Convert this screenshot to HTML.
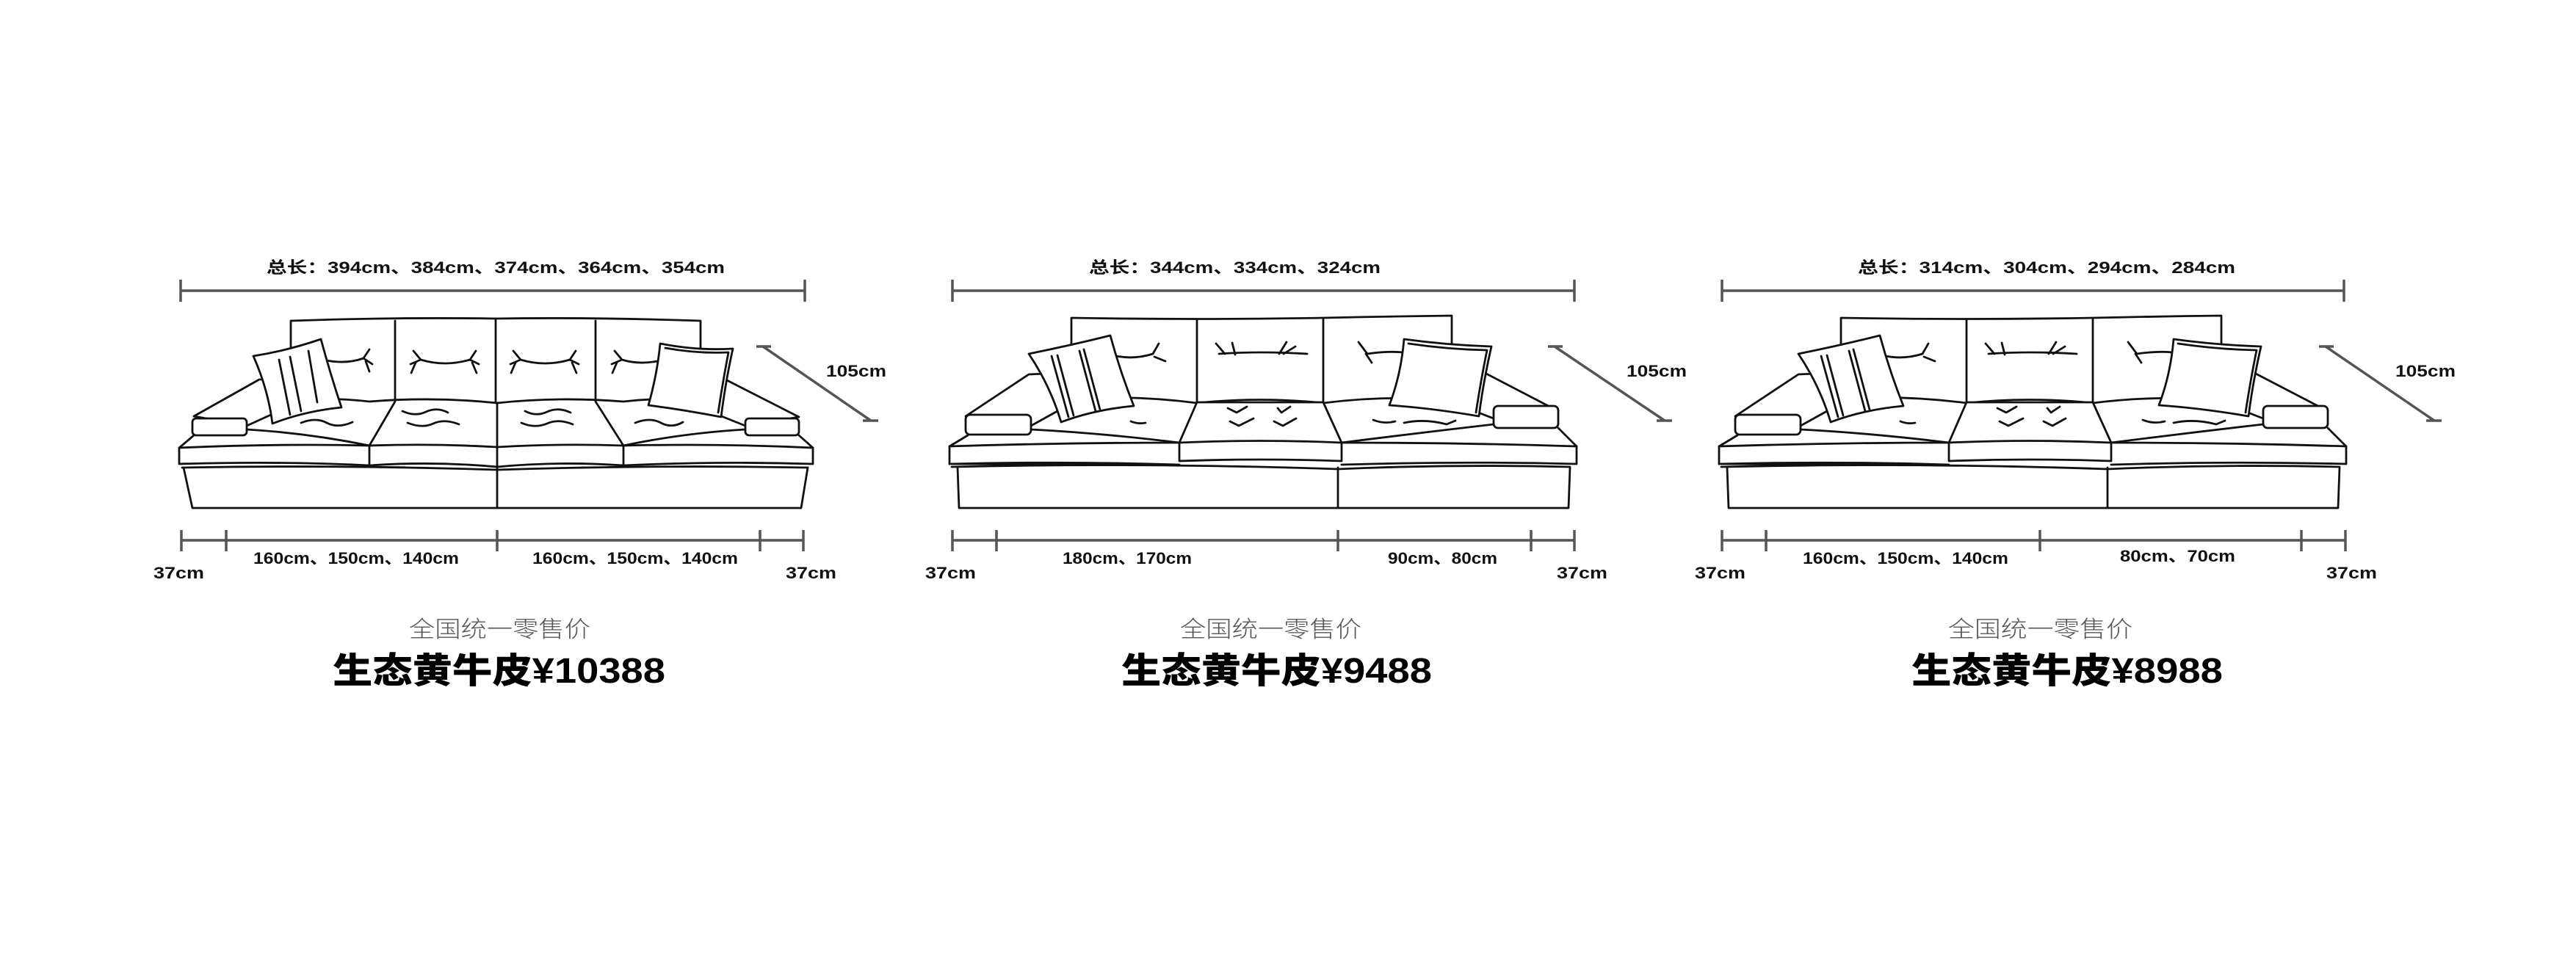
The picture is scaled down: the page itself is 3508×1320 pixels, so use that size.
<!DOCTYPE html>
<html><head><meta charset="utf-8"><style>
html,body{margin:0;padding:0;background:#fff;}
svg{display:block;}
.d{stroke:#555;stroke-width:3.5;fill:none;}
.s{stroke:#111;stroke-width:2.8;fill:none;stroke-linejoin:round;stroke-linecap:round;}
.f{stroke:#111;stroke-width:2.8;fill:#fff;stroke-linejoin:round;}
.t{font-family:"Liberation Sans","Noto Sans CJK SC",sans-serif;font-weight:bold;font-size:22px;fill:#111;}
.g{font-family:"Liberation Sans","Noto Sans CJK SC",sans-serif;font-weight:300;font-size:31px;fill:#555;}
.p{font-family:"Liberation Sans","Noto Sans CJK SC",sans-serif;font-weight:900;font-size:48px;fill:#000;}
</style></head><body>
<svg width="3508" height="1320" viewBox="0 0 3508 1320" xmlns="http://www.w3.org/2000/svg">
<rect width="3508" height="1320" fill="#fff"/>

<!-- ===== SOFA 1 ===== -->
<text class="t" x="363" y="372" textLength="624" lengthAdjust="spacingAndGlyphs">总长：394cm、384cm、374cm、364cm、354cm</text>
<path class="d" d="M246,396 H1096 M246,381 V411 M1096,381 V411"/>
<path class="d" d="M247,736 H1094 M247,722 V751 M308,722 V751 M677,722 V751 M1035,722 V751 M1094,722 V751"/>
<text class="t" x="345" y="768" textLength="280" lengthAdjust="spacingAndGlyphs">160cm、150cm、140cm</text>
<text class="t" x="725" y="768" textLength="280" lengthAdjust="spacingAndGlyphs">160cm、150cm、140cm</text>
<text class="t" x="209" y="788" textLength="69" lengthAdjust="spacingAndGlyphs">37cm</text>
<text class="t" x="1070" y="788" textLength="69" lengthAdjust="spacingAndGlyphs">37cm</text>
<path class="d" d="M1039,472 L1186,573 M1030,472 H1050 M1175,573 H1196"/>
<text class="t" x="1125" y="513" textLength="82" lengthAdjust="spacingAndGlyphs">105cm</text>
<text class="g" x="557" y="868" textLength="247" lengthAdjust="spacingAndGlyphs">全国统一零售价</text>
<text class="p" x="453" y="930" textLength="453" lengthAdjust="spacingAndGlyphs">生态黄牛皮¥10388</text>

<g>
<path class="s" d="M396,545 V437 Q540,432 675,434 Q810,432 954,437 V545"/>
<path class="s" d="M538,437 V546 M675,434 V548 M811,437 V546"/>
<path class="s" d="M396,545 Q450,541 503,547 Q590,540 677,549 Q760,540 849,547 Q900,541 954,545"/>
<path class="s" d="M440,490 Q470,497 495,488 M495,488 l8,-12 M495,488 l12,8 M498,492 l5,14"/>
<path class="s" d="M573,490 Q606,500 640,490 M573,490 l-10,-12 M573,490 l-14,6 M566,494 l-6,14 M640,490 l8,-12 M640,490 l12,6 M643,494 l6,14"/>
<path class="s" d="M709,490 Q742,500 776,490 M709,490 l-10,-12 M709,490 l-14,6 M702,494 l-6,14 M776,490 l8,-12 M776,490 l12,6 M779,494 l6,14"/>
<path class="s" d="M847,490 Q870,497 895,492 M847,490 l-10,-12 M847,490 l-14,6 M840,494 l-6,14"/>
<path class="f" d="M264,567 L353,517 L398,516 L380,560 L336,580 Z"/>
<rect class="f" x="262" y="570" width="74" height="23" rx="5"/>
<path class="s" d="M264,593 L244,610 M336,585 Q420,590 503,607"/>
<path class="f" d="M1088,568 L988,517 L955,516 L965,560 L1015,580 Z"/>
<rect class="f" x="1015" y="570" width="73" height="23" rx="5"/>
<path class="s" d="M1088,593 L1107,610 M1015,585 Q930,590 849,607"/>
<path class="s" d="M503,607 L538,547 M677,607 L677,549 M849,607 L811,547"/>
<path class="s" d="M244,610 Q380,604 503,607 Q590,604 677,609 Q760,604 849,607 Q980,604 1107,610 V632 Q980,628 849,634 Q760,628 677,636 Q590,628 503,634 Q380,628 244,632 Z"/>
<path class="s" d="M503,608 V633 M677,610 V636 M849,608 V633"/>
<path class="s" d="M248,637 Q460,633 677,640 Q890,633 1100,637"/>
<path class="s" d="M410,576 Q430,568 445,576 Q460,584 480,575"/>
<path class="s" d="M548,560 Q565,568 580,561 Q595,554 610,562 M555,576 Q575,584 590,577 Q605,570 625,578"/>
<path class="s" d="M715,560 Q730,568 745,561 Q760,554 777,562 M710,576 Q728,584 745,577 Q760,570 780,578"/>
<path class="s" d="M865,576 Q885,568 900,576 Q915,584 930,575"/>
<path class="s" d="M250,637 L262,692 L1091,692 L1100,637 M677,637 V692"/>
<path class="f" d="M345,485 Q390,478 437,462 Q450,510 465,555 Q415,560 371,577 Q365,530 345,485 Z"/>
<path class="s" d="M380,490 L395,565 M395,486 L410,560 M420,478 L432,548"/>
<path class="f" d="M899,468 Q950,478 998,475 Q988,520 982,568 Q930,558 883,552 Q895,510 899,468 Z"/>
<path class="s" d="M906,474 Q950,482 992,480 Q984,522 978,562"/>
</g>

<!-- ===== SOFA 2 ===== -->
<text class="t" x="1483" y="372" textLength="397" lengthAdjust="spacingAndGlyphs">总长：344cm、334cm、324cm</text>
<path class="d" d="M1297,396 H2144 M1297,381 V411 M2144,381 V411"/>
<path class="d" d="M1297,736 H2144 M1297,722 V751 M1357,722 V751 M1822,722 V751 M2085,722 V751 M2144,722 V751"/>
<text class="t" x="1447" y="768" textLength="176" lengthAdjust="spacingAndGlyphs">180cm、170cm</text>
<text class="t" x="1890" y="768" textLength="149" lengthAdjust="spacingAndGlyphs">90cm、80cm</text>
<text class="t" x="1260" y="788" textLength="69" lengthAdjust="spacingAndGlyphs">37cm</text>
<text class="t" x="2120" y="788" textLength="69" lengthAdjust="spacingAndGlyphs">37cm</text>
<path class="d" d="M2117,472 L2267,573 M2108,472 H2128 M2256,573 H2277"/>
<text class="t" x="2215" y="513" textLength="82" lengthAdjust="spacingAndGlyphs">105cm</text>
<text class="g" x="1607" y="868" textLength="247" lengthAdjust="spacingAndGlyphs">全国统一零售价</text>
<text class="p" x="1527" y="930" textLength="423" lengthAdjust="spacingAndGlyphs">生态黄牛皮¥9488</text>

<g id="s2">
<path class="s" d="M1459,543 V433 Q1630,436 1802,433 Q1890,431 1977,430 V545"/>
<path class="s" d="M1630,435 V548 M1802,433 V548"/>
<path class="s" d="M1459,543 Q1545,538 1630,549 Q1716,540 1802,549 Q1890,538 1977,545"/>
<path class="s" d="M1520,485 Q1545,490 1570,482 M1570,482 l8,-14 M1572,486 l15,6"/>
<path class="s" d="M1660,482 Q1716,478 1780,482 M1668,482 l-12,-14 M1682,483 l-4,-16 M1742,482 l10,-16 M1748,482 l16,-10"/>
<path class="s" d="M1862,482 Q1890,478 1910,480 M1862,482 l-12,-16 M1860,482 l8,12"/>
<path class="f" d="M1315,567 L1401,510 L1445,508 L1440,560 L1404,580 Z"/>
<rect class="f" x="1315" y="565" width="89" height="27" rx="6"/>
<path class="s" d="M1318,593 L1293,608 M1404,585 Q1500,590 1606,603"/>
<path class="f" d="M2122,560 L2022,508 L1990,508 L1995,555 L2034,570 Z"/>
<rect class="f" x="2034" y="553" width="88" height="30" rx="6"/>
<path class="s" d="M2122,583 L2147,608 M2034,578 Q1930,590 1827,603"/>
<path class="f" d="M1630,548 L1802,548 L1827,603 V628 Q1716,624 1606,628 V603 Z"/>
<path class="s" d="M1606,603 Q1716,598 1827,603"/>
<path class="s" d="M1293,608 Q1450,603 1606,603 M1827,603 Q1990,603 2147,608 V632 Q1990,628 1827,633 M1606,633 Q1450,628 1293,632 Z"/>
<path class="s" d="M1293,608 V632 M1296,636 Q1560,630 1822,639 Q1980,632 2138,636"/>
<path class="s" d="M1540,574 Q1550,578 1560,576 M1870,572 Q1885,578 1900,574 M1912,576 Q1940,570 1970,578 l12,-5"/>
<path class="s" d="M1672,556 l12,6 l14,-8 M1740,556 l5,6 l12,-8 M1675,574 l12,6 l20,-10 M1735,574 l12,6 l18,-10"/>
<path class="s" d="M1304,637 L1306,692 L2136,692 L2138,637 M1822,637 V692"/>
<path class="f" d="M1401,482 Q1460,470 1512,457 Q1525,505 1544,553 Q1490,558 1445,575 Q1430,525 1401,482 Z"/>
<path class="s" d="M1432,485 L1455,568 M1440,484 L1462,566 M1470,478 L1492,560 M1476,476 L1498,558"/>
<path class="f" d="M1912,462 Q1970,470 2031,472 Q2020,520 2014,567 Q1950,556 1892,552 Q1908,510 1912,462 Z"/>
<path class="s" d="M1918,468 Q1972,476 2025,477 Q2016,522 2010,562"/>
</g>

<!-- ===== SOFA 3 ===== -->
<text class="t" x="2530" y="372" textLength="514" lengthAdjust="spacingAndGlyphs">总长：314cm、304cm、294cm、284cm</text>
<path class="d" d="M2345,396 H3192 M2345,381 V411 M3192,381 V411"/>
<path class="d" d="M2345,736 H3194 M2345,722 V751 M2405,722 V751 M2778,722 V751 M3134,722 V751 M3194,722 V751"/>
<text class="t" x="2455" y="768" textLength="280" lengthAdjust="spacingAndGlyphs">160cm、150cm、140cm</text>
<text class="t" x="2887" y="765" textLength="157" lengthAdjust="spacingAndGlyphs">80cm、70cm</text>
<text class="t" x="2308" y="788" textLength="69" lengthAdjust="spacingAndGlyphs">37cm</text>
<text class="t" x="3168" y="788" textLength="69" lengthAdjust="spacingAndGlyphs">37cm</text>
<path class="d" d="M3167,472 L3315,573 M3158,472 H3178 M3304,573 H3325"/>
<text class="t" x="3262" y="513" textLength="82" lengthAdjust="spacingAndGlyphs">105cm</text>
<text class="g" x="2653" y="868" textLength="251" lengthAdjust="spacingAndGlyphs">全国统一零售价</text>
<text class="p" x="2603" y="930" textLength="424" lengthAdjust="spacingAndGlyphs">生态黄牛皮¥8988</text>
<use href="#s2" transform="translate(1048,0)"/>
</svg>
</body></html>
